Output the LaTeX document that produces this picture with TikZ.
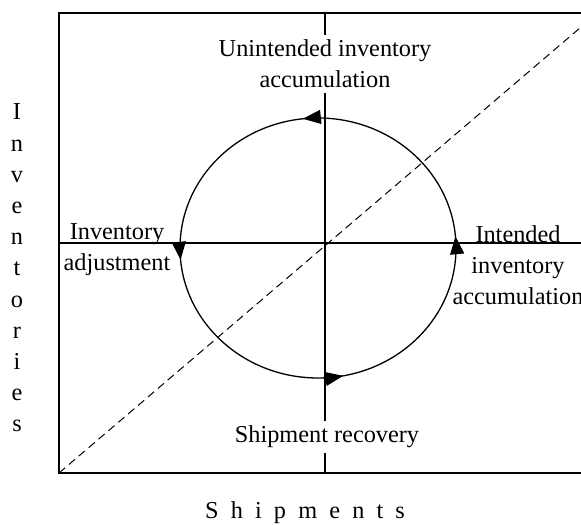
\documentclass[tikz,border=0pt]{standalone}
\usepackage{fontspec}
\setmainfont{Liberation Serif}
\usetikzlibrary{arrows.meta,decorations.markings}

\begin{document}
\begin{tikzpicture}
   [
   x=0.5pt, y=0.5pt,
   frame/.style={draw=black, line width=1pt},
   diag/.style={draw=black, line width=0.5pt, dash pattern=on 4pt off 2.5pt},
   loopline/.style={draw=black, line width=0.65pt, postaction={decorate},
      decoration={markings,
         mark=at position 0.014 with {\arrow{Triangle[length=9pt,width=7pt]}},
         mark=at position 0.268 with {\arrow{Triangle[length=9pt,width=7pt]}},
         mark=at position 0.514 with {\arrow{Triangle[length=9pt,width=7pt]}},
         mark=at position 0.780 with {\arrow{Triangle[length=9pt,width=7pt]}}}},
   phase/.style={align=center, inner sep=2.5pt, font=\fontsize{12.15}{15.6}\selectfont},
   blanked/.style={phase, fill=white},
   axisname/.style={align=center, inner sep=0pt, font=\fontsize{12.15}{15.6}\selectfont},
   ]
 \useasboundingbox (0,0) rectangle (581,524);
 \clip (0,0) rectangle (581,524);
 \coordinate (tl) at (59,511);
 \coordinate (bl) at (59,51);
 \coordinate (tr) at (590,511);
 \coordinate (br) at (590,51);
 \coordinate (west) at (59,281);
 \coordinate (east) at (590,281);
 \coordinate (north) at (325,511);
 \coordinate (south) at (325,51);
 \coordinate (far) at (590,504.6);
 \coordinate (mid) at (318,276);
 % frame, axes and the 45 degree line
 \draw [frame] (tr) -- (tl) -- (bl) -- (br);
 \draw [frame] (west) -- (east);
 \draw [frame] (north) -- (south);
 \draw [diag] (bl) -- (far);
 \draw [loopline] (mid) ellipse [x radius=138, y radius=130];
 % phase labels
 \node at (325,460) [blanked] (unint) {Unintended inventory\\accumulation};
 \node at (117,274) [phase] (adjust) {Inventory\\adjustment};
 \node at (518,259) [phase] (intend) {Intended\\inventory\\accumulation};
 \node at (327,87) [blanked] (recov) {Shipment recovery};
 % axis names
 \node at (17,256) [axisname] (invs) {I\\n\\v\\e\\n\\t\\o\\r\\i\\e\\s};
 \node at (305,11) [axisname] (ships) {\spaceskip=0.5em S h i p m e n t s};
\end{tikzpicture}
\end{document}
